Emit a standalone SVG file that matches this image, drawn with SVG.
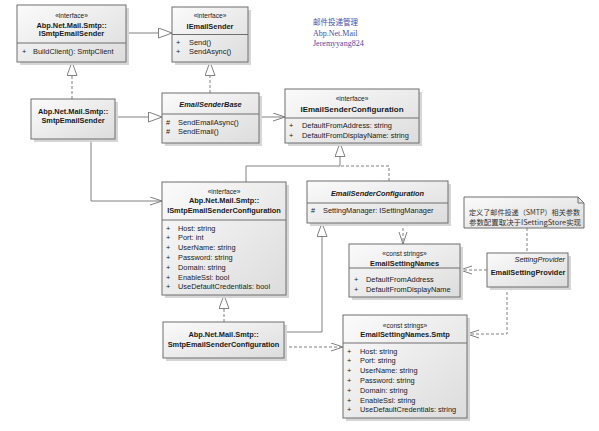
<svg xmlns="http://www.w3.org/2000/svg" width="599" height="431" viewBox="0 0 599 431">
<style>
text{font-family:"Liberation Sans",Arial,sans-serif;font-size:7.4px;fill:#1a1a1a}
.st{font-size:6.6px;text-anchor:middle}
.nm{font-weight:bold;text-anchor:middle}
.ab{font-weight:bold;font-style:italic;text-anchor:middle}
.it{font-style:italic}
.box{fill:url(#g);stroke:#6e6e6e;stroke-width:1}
.sh{fill:#d6d6d6}
.dv{stroke:#6e6e6e;stroke-width:1}
.c{fill:none;stroke:#808080;stroke-width:1}
.d{stroke-dasharray:3,2}
.blue{font-family:"Liberation Serif","Noto Sans CJK SC",serif;font-size:8px;fill:#4a4aa8}
.cn{font-family:"Noto Sans CJK SC",sans-serif;font-size:7.2px;fill:#333}
</style>
<defs>
<linearGradient id="g" x1="0" y1="0" x2="1" y2="1">
<stop offset="0" stop-color="#fbfbfb"/>
<stop offset="1" stop-color="#dcdcdc"/>
</linearGradient>
<marker id="tri" markerUnits="userSpaceOnUse" markerWidth="16" markerHeight="12" refX="14" refY="5.5" orient="auto">
<path d="M0.5,0.5 L14,5.5 L0.5,10.5 Z" fill="#fff" stroke="#808080" stroke-width="1" stroke-dasharray="none"/>
</marker>
<marker id="open" markerUnits="userSpaceOnUse" markerWidth="14" markerHeight="10" refX="12.5" refY="4.5" orient="auto">
<path d="M0.5,0.5 L12.5,4.5 L0.5,8.5" fill="none" stroke="#808080" stroke-width="1" stroke-dasharray="none"/>
</marker>
</defs>
<rect width="599" height="431" fill="#fff"/>

<g id="connectors">
<path class="c" d="M126,33 H172" marker-end="url(#tri)"/>
<path class="c d" d="M72,99 V62" marker-end="url(#tri)"/>
<path class="c" d="M115,117 H162" marker-end="url(#tri)"/>
<path class="c d" d="M210,93 V62" marker-end="url(#tri)"/>
<path class="c" d="M259,117 H285" marker-end="url(#open)"/>
<path class="c" d="M91,139 V201 H162" marker-end="url(#open)"/>
<path class="c" d="M246,182 V166 H340 V143" marker-end="url(#tri)"/>
<path class="c d" d="M389,181 V166 H340"/>
<path class="c d" d="M403,223 V244" marker-end="url(#open)"/>
<path class="c d" d="M487,270 H460" marker-end="url(#open)"/>
<path class="c d" d="M527,228 V253"/>
<path class="c d" d="M507,287 V334 H467" marker-end="url(#open)"/>
<path class="c d" d="M224,322 V295" marker-end="url(#tri)"/>
<path class="c" d="M284,332 H322 V223" marker-end="url(#tri)"/>
<path class="c d" d="M284,347 H343" marker-end="url(#open)"/>
</g>

<g id="ISmtpEmailSender">
<rect class="sh" x="20" y="8" width="109" height="57"/>
<rect class="box" x="17" y="5" width="109" height="57"/>
<line class="dv" x1="17" y1="43" x2="126" y2="43"/>
<text class="st" x="71.5" y="17.5">«interface»</text>
<text class="nm" x="71.5" y="28.4">Abp.Net.Mail.Smtp::</text>
<text class="nm" x="71.5" y="36.4">ISmtpEmailSender</text>
<text x="22" y="53.6">+</text>
<text x="33" y="53.6">BuildClient(): SmtpClient</text>
</g>

<g id="IEmailSender">
<rect class="sh" x="175" y="10" width="76" height="55"/>
<rect class="box" x="172" y="7" width="76" height="55"/>
<line class="dv" x1="172" y1="34.5" x2="248" y2="34.5"/>
<text class="st" x="210" y="17.5">«interface»</text>
<text class="nm" x="210" y="28.5">IEmailSender</text>
<text x="176" y="44.6">+</text>
<text x="189" y="44.6">Send()</text>
<text x="176" y="54.4">+</text>
<text x="189" y="54.4">SendAsync()</text>
</g>

<g id="SmtpEmailSender">
<rect class="sh" x="34" y="102" width="84" height="40"/>
<rect class="box" x="31" y="99" width="84" height="40"/>
<text class="nm" x="73" y="114.4">Abp.Net.Mail.Smtp::</text>
<text class="nm" x="73" y="123.4">SmtpEmailSender</text>
</g>

<g id="EmailSenderBase">
<rect class="sh" x="165" y="96" width="97" height="50"/>
<rect class="box" x="162" y="93" width="97" height="50"/>
<line class="dv" x1="162" y1="114" x2="259" y2="114"/>
<text class="ab" x="210.5" y="106.6">EmailSenderBase</text>
<text x="166" y="124.6">#</text>
<text x="178" y="124.6">SendEmailAsync()</text>
<text x="166" y="134">#</text>
<text x="178" y="134">SendEmail()</text>
</g>

<g id="IEmailSenderConfiguration">
<rect class="sh" x="288" y="92" width="134" height="54"/>
<rect class="box" x="285" y="89" width="134" height="54"/>
<line class="dv" x1="285" y1="118" x2="419" y2="118"/>
<text class="st" x="352" y="100.5">«interface»</text>
<text class="nm" x="352" y="111.8" style="font-size:8px">IEmailSenderConfiguration</text>
<text x="289" y="127.8">+</text>
<text x="302" y="127.8">DefaultFromAddress: string</text>
<text x="289" y="137.6">+</text>
<text x="302" y="137.6">DefaultFromDisplayName: string</text>
</g>

<g id="ISmtpEmailSenderConfiguration">
<rect class="sh" x="165" y="185" width="124" height="113"/>
<rect class="box" x="162" y="182" width="124" height="113"/>
<line class="dv" x1="162" y1="220" x2="286" y2="220"/>
<text class="st" x="224" y="193.5">«interface»</text>
<text class="nm" x="224" y="202.8">Abp.Net.Mail.Smtp::</text>
<text class="nm" x="224" y="212.8">ISmtpEmailSenderConfiguration</text>
<text x="166" y="230.6">+</text><text x="178" y="230.6">Host: string</text>
<text x="166" y="240.4">+</text><text x="178" y="240.4">Port: int</text>
<text x="166" y="250.2">+</text><text x="178" y="250.2">UserName: string</text>
<text x="166" y="260">+</text><text x="178" y="260">Password: string</text>
<text x="166" y="269.8">+</text><text x="178" y="269.8">Domain: string</text>
<text x="166" y="279.6">+</text><text x="178" y="279.6">EnableSsl: bool</text>
<text x="166" y="289.4">+</text><text x="178" y="289.4">UseDefaultCredentials: bool</text>
</g>

<g id="EmailSenderConfiguration">
<rect class="sh" x="310" y="184" width="141" height="42"/>
<rect class="box" x="307" y="181" width="141" height="42"/>
<line class="dv" x1="307" y1="203" x2="448" y2="203"/>
<text class="ab" x="377.5" y="195.6">EmailSenderConfiguration</text>
<text x="311" y="212.8">#</text>
<text x="323" y="212.8">SettingManager: ISettingManager</text>
</g>

<g id="EmailSettingNames">
<rect class="sh" x="352" y="247" width="111" height="53"/>
<rect class="box" x="349" y="244" width="111" height="53"/>
<line class="dv" x1="349" y1="268" x2="460" y2="268"/>
<text class="st" x="404.5" y="255.5">«const strings»</text>
<text class="nm" x="404.5" y="265.6">EmailSettingNames</text>
<text x="354" y="281.6">+</text><text x="366" y="281.6">DefaultFromAddress</text>
<text x="354" y="291.6">+</text><text x="366" y="291.6">DefaultFromDisplayName</text>
</g>

<g id="Note">
<path d="M464,197 H578 L584,203 V228 H464 Z" fill="url(#g)" stroke="#6e6e6e" stroke-width="1"/>
<path d="M578,197 V203 H584" fill="none" stroke="#6e6e6e" stroke-width="1"/>
<text class="cn" x="469" y="214.6" textLength="111" lengthAdjust="spacingAndGlyphs">定义了邮件投递（SMTP）相关参数</text>
<text class="cn" x="469" y="224.6" textLength="112" lengthAdjust="spacingAndGlyphs">参数配置取决于ISettingStore实现</text>
</g>

<g id="EmailSettingProvider">
<rect class="sh" x="490" y="256" width="81" height="34"/>
<rect class="box" x="487" y="253" width="81" height="34"/>
<text class="it" x="565" y="261.6" text-anchor="end">SettingProvider</text>
<text class="nm" x="528" y="274.6">EmailSettingProvider</text>
</g>

<g id="EmailSettingNamesSmtp">
<rect class="sh" x="346" y="318" width="124" height="103"/>
<rect class="box" x="343" y="315" width="124" height="103"/>
<line class="dv" x1="343" y1="343" x2="467" y2="343"/>
<text class="st" x="405" y="327.5">«const strings»</text>
<text class="nm" x="405" y="336.8">EmailSettingNames.Smtp</text>
<text x="347" y="353.6">+</text><text x="360" y="353.6">Host: string</text>
<text x="347" y="363.4">+</text><text x="360" y="363.4">Port: string</text>
<text x="347" y="373.2">+</text><text x="360" y="373.2">UserName: string</text>
<text x="347" y="383">+</text><text x="360" y="383">Password: string</text>
<text x="347" y="392.8">+</text><text x="360" y="392.8">Domain: string</text>
<text x="347" y="402.6">+</text><text x="360" y="402.6">EnableSsl: string</text>
<text x="347" y="412.4">+</text><text x="360" y="412.4">UseDefaultCredentials: string</text>
</g>

<g id="SmtpEmailSenderConfiguration">
<rect class="sh" x="166" y="325" width="121" height="36"/>
<rect class="box" x="163" y="322" width="121" height="36"/>
<text class="nm" x="223.5" y="336.6">Abp.Net.Mail.Smtp::</text>
<text class="nm" x="223.5" y="346.6">SmtpEmailSenderConfiguration</text>
</g>

<g id="Caption">
<text class="blue" x="313" y="24.5" style="font-family:'Noto Sans CJK SC',sans-serif;font-size:7.5px">邮件投递管理</text>
<text class="blue" x="313" y="35.5">Abp.Net.Mail</text>
<text class="blue" x="313" y="45.5">Jeremyyang824</text>
</g>
</svg>
